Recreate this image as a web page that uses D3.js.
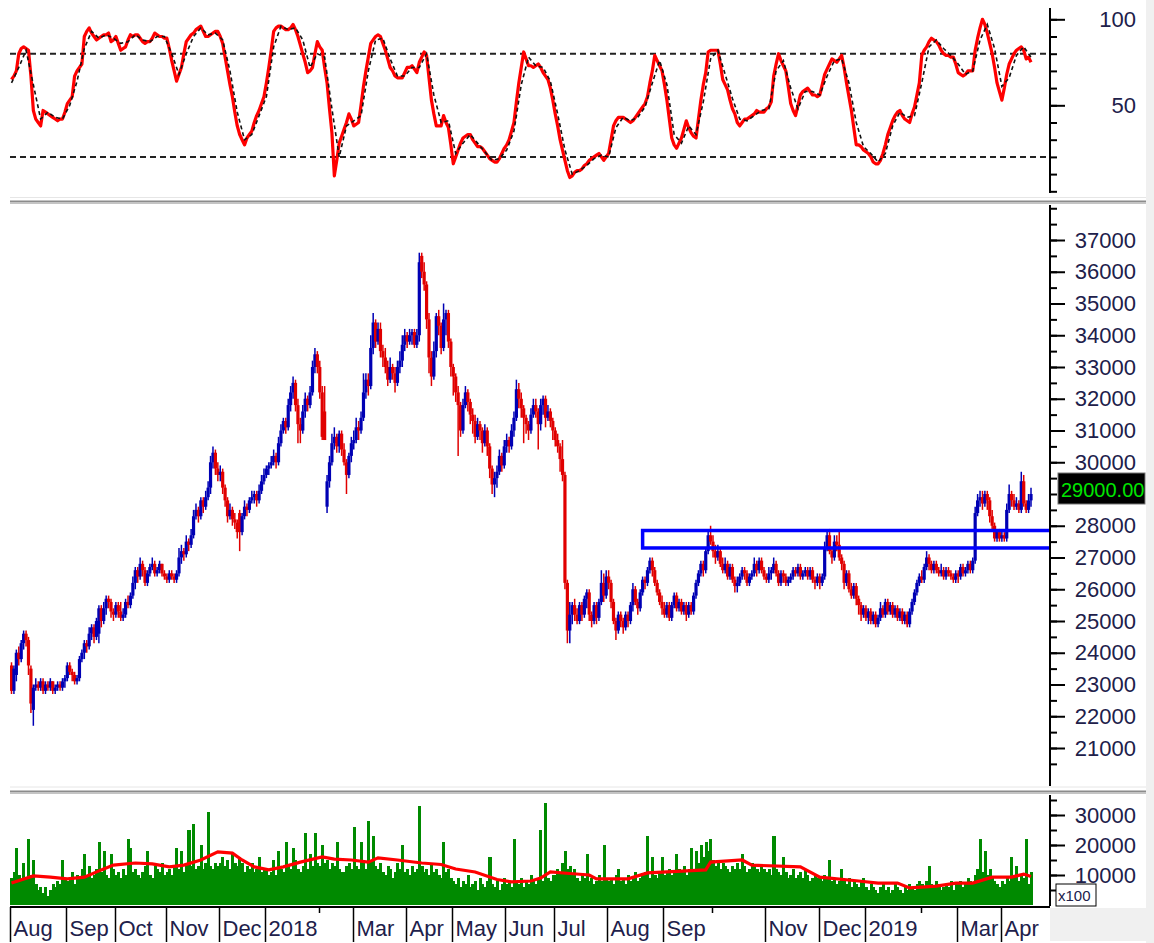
<!DOCTYPE html>
<html>
<head>
<meta charset="utf-8">
<script src="https://cdn.jsdelivr.net/npm/d3@7/dist/d3.min.js"></script>
<style>
	body { margin: 0; background: #fff; }
	svg { display: block; font-family: 'Liberation Sans', Arial, sans-serif; }
</style>
</head>
<body>
<div id="chart"></div>
<script>
// month ticks on the date row ('' = short tick, no label)
var monthLabels = ['Aug', 'Sep', 'Oct', 'Nov', 'Dec', '2018', '', 'Mar', 'Apr', 'May', 'Jun', 'Jul',
	'Aug', 'Sep', '', 'Nov', 'Dec', '2019', '', 'Mar', 'Apr'];
var monthStarts = [0, 23, 43, 64, 86, 105, 127, 141, 163, 182, 204, 224, 246, 269, 289, 311, 333, 352, 375, 390, 408];

var stochTicks = [100, 50];
var stochLevels = [80, 20];
// 29000 sits under the last-price box, so it gets no label
var priceTicks = [21000, 22000, 23000, 24000, 25000, 26000, 27000, 28000, 30000,
	31000, 32000, 33000, 34000, 35000, 36000, 37000];
var volumeTicks = [10000, 20000, 30000];

// daily bars [open, high, low, close], prices in units of 100
var priceUnit = 100;
var bars = [
	// Aug 2017
	[236,237,227,228],[228,236,227,235],[233,241,231,240],[240,242,236,238],[238,244,237,243],[243,247,241,246],[246,247,242,244],[244,245,233,236],[235,236,221,224],[222,230,217,229],[229,232,228,230],[230,231,228,229],[229,232,228,231],[231,232,227,228],[228,231,227,230],[230,231,228,229],[229,232,228,231],[231,231,227,228],[228,230,227,229],[229,231,228,230],[230,231,228,229],[229,232,228,231],[231,233,229,232],
	// Sep
	[232,237,231,236],[236,237,233,234],[234,235,231,233],[233,234,230,231],[231,233,230,232],[232,239,231,238],[238,241,237,240],[240,244,238,243],[243,244,240,242],[242,248,241,246],[246,249,244,248],[248,249,243,245],[245,251,244,250],[246,255,243,254],[254,255,248,250],[250,256,249,254],[254,258,252,257],[257,258,254,256],[256,257,251,253],[253,254,250,252],
	// Oct
	[252,256,251,255],[255,256,251,253],[253,256,250,251],[251,254,250,252],[252,257,251,256],[256,258,254,255],[255,259,254,258],[258,264,257,262],[262,267,260,266],[266,267,262,264],[264,270,263,268],[268,269,264,266],[266,267,261,262],[262,266,261,265],[265,268,264,267],[267,270,266,268],[268,269,264,265],[265,267,264,266],[266,269,265,268],[268,268,264,265],[265,266,263,264],
	// Nov
	[264,265,262,263],[263,266,262,265],[265,266,263,264],[264,265,262,263],[263,266,262,265],[265,273,264,270],[270,274,268,272],[272,273,269,271],[271,277,270,275],[275,276,272,274],[274,279,273,277],[277,285,276,283],[283,287,282,285],[285,286,281,283],[283,289,282,288],[288,289,284,286],[286,291,285,289],[289,294,288,292],[292,302,290,300],[300,305,298,303],[303,304,296,298],[298,300,294,296],
	// Dec
	[296,299,294,297],[297,298,290,292],[292,293,286,288],[288,289,281,283],[283,287,282,285],[285,286,280,282],[282,284,279,281],[281,282,276,278],[284,285,272,278],[278,284,277,283],[283,288,282,286],[286,287,283,285],[285,289,284,288],[288,291,287,289],[289,291,287,290],[290,291,286,288],[288,293,287,291],[291,296,290,294],[294,298,293,296],
	// Jan 2018
	[296,299,295,298],[298,300,296,299],[299,302,298,300],[300,304,299,302],[302,303,298,300],[300,308,299,306],[306,312,305,310],[310,314,309,313],[313,314,309,311],[311,320,310,318],[318,324,316,322],[322,327,320,325],[325,326,316,318],[318,320,306,312],[312,314,306,310],[310,318,309,316],[316,322,314,320],[320,321,316,318],[318,324,317,322],[322,332,321,330],[330,336,328,334],[334,335,328,330],
	// Feb
	[330,332,320,322],[322,324,307,308],[316,324,307,307],[286,296,284,294],[294,302,292,300],[300,309,299,306],[306,311,304,308],[308,309,303,305],[305,310,303,309],[309,310,302,304],[304,306,299,300],[300,301,290,296],[296,303,295,302],[302,308,300,306],
	// Mar
	[306,310,304,307],[307,314,306,311],[311,313,307,310],[310,316,309,314],[314,328,313,322],[322,328,320,326],[326,328,321,324],[324,340,323,336],[336,347,334,344],[344,345,336,338],[338,344,337,342],[342,344,333,335],[335,337,330,333],[333,336,328,330],[330,332,324,326],[326,333,325,330],[330,331,326,328],[328,330,322,325],[325,332,324,330],[330,335,328,332],[332,340,330,337],[337,342,335,340],
	// Apr
	[340,341,336,338],[338,342,337,340],[340,342,337,341],[341,342,336,337],[337,342,336,340],[340,366,338,363],[365,366,358,360],[360,363,354,356],[356,357,342,345],[345,347,328,333],[333,335,324,327],[327,338,326,335],[335,347,333,346],[346,348,340,343],[343,344,334,336],[336,350,335,345],[345,348,340,347],[347,348,336,338],[338,339,327,330],
	// May
	[330,331,321,327],[327,328,319,322],[322,324,302,318],[318,319,308,310],[310,320,309,318],[318,324,317,322],[322,323,316,319],[319,320,312,315],[315,317,309,313],[313,315,306,308],[308,314,307,312],[312,313,307,310],[310,311,303,306],[306,312,305,310],[310,311,302,305],[305,306,295,298],[298,299,290,293],[293,297,289,295],[295,299,292,297],[297,304,296,302],[302,303,297,299],[299,307,298,305],
	// Jun
	[305,309,303,307],[307,308,303,305],[305,312,304,310],[310,316,308,314],[314,326,313,323],[323,325,317,320],[320,322,314,317],[317,318,306,314],[314,315,309,312],[312,313,307,310],[310,317,309,315],[315,320,314,318],[318,320,314,316],[316,317,304,312],[312,320,310,318],[318,321,315,320],[320,321,311,314],[314,318,313,316],[316,317,311,313],[313,314,307,310],
	// Jul
	[310,311,305,307],[307,309,303,305],[305,306,297,301],[301,307,294,296],[296,297,260,262],[262,263,243,247],[247,256,243,252],[252,256,249,255],[255,257,250,252],[252,254,249,250],[250,256,249,255],[255,256,250,252],[252,258,251,257],[257,260,254,259],[259,260,250,252],[252,253,248,250],[250,256,249,255],[255,256,249,251],[251,257,250,256],[256,266,255,262],[262,265,256,258],[258,266,257,264],
	// Aug
	[264,266,260,262],[262,263,254,256],[256,257,249,250],[250,251,244,247],[247,253,246,252],[252,253,248,250],[250,251,246,248],[248,253,247,252],[252,253,248,250],[250,256,249,255],[255,262,253,260],[260,261,255,256],[256,257,252,254],[254,260,253,259],[259,264,258,263],[263,264,260,262],[262,267,261,266],[266,270,265,269],[269,270,264,266],[266,267,261,262],[262,263,258,259],[259,260,255,256],[256,258,252,254],
	// Sep
	[254,256,251,252],[252,256,251,255],[255,256,250,251],[251,256,250,255],[255,259,254,258],[258,259,253,254],[254,257,253,256],[256,257,252,253],[253,256,252,255],[255,256,250,252],[252,256,251,255],[255,256,252,253],[253,259,252,258],[258,263,257,262],[262,266,261,265],[265,269,264,268],[268,269,264,266],[266,273,265,272],[272,278,271,277],[277,280,274,275],
	// Oct
	[275,277,270,272],[272,274,268,270],[270,274,269,272],[272,273,267,268],[268,270,265,266],[266,270,265,268],[268,269,263,264],[264,268,263,267],[267,268,262,263],[263,264,259,261],[261,264,259,262],[262,265,261,264],[264,267,263,266],[266,267,263,265],[265,266,261,262],[262,265,261,264],[264,266,263,265],[265,270,264,268],[268,269,264,266],[266,270,265,269],[269,270,265,266],[266,267,263,264],
	// Nov
	[264,265,262,263],[263,267,262,265],[265,267,263,266],[266,270,265,268],[268,269,264,265],[265,266,261,262],[262,266,261,265],[265,266,262,264],[264,265,261,262],[262,264,261,263],[263,265,262,264],[264,267,263,266],[266,267,264,265],[265,268,264,267],[267,268,263,264],[264,266,263,265],[265,267,264,266],[266,267,263,264],[264,267,263,266],[266,267,262,263],[263,264,260,262],[262,265,261,264],
	// Dec
	[264,265,260,262],[262,265,261,264],[264,275,263,273],[273,279,272,277],[277,279,271,272],[272,273,268,270],[270,277,269,275],[275,277,272,274],[274,278,269,270],[270,271,266,268],[268,269,260,262],[262,266,261,265],[265,266,259,260],[260,262,257,258],[258,262,257,261],[261,262,255,257],[257,258,252,255],[255,256,250,252],[252,255,251,254],
	// Jan 2019
	[254,255,250,251],[251,254,249,253],[253,254,249,250],[250,253,249,252],[252,253,248,249],[249,252,248,251],[251,256,250,254],[254,255,251,252],[252,257,251,256],[256,257,252,253],[253,256,252,255],[255,256,251,252],[252,255,251,254],[254,255,250,251],[251,254,250,253],[253,254,249,250],[250,253,249,252],[252,253,248,249],[249,254,248,253],[253,257,252,256],[256,260,255,259],[259,263,258,262],[262,265,261,264],
	// Feb
	[264,266,262,263],[263,268,262,267],[267,272,266,270],[270,271,266,268],[268,269,265,266],[266,269,265,268],[268,269,265,266],[266,267,264,265],[265,268,264,266],[266,267,263,264],[264,267,263,266],[266,267,264,265],[265,266,263,264],[264,265,262,263],[263,266,262,265],
	// Mar
	[265,266,262,264],[264,268,263,267],[267,268,264,265],[265,267,264,266],[266,269,265,268],[268,269,265,266],[266,270,265,269],[269,286,268,284],[284,290,283,288],[288,291,286,289],[289,291,285,287],[287,291,286,290],[290,291,285,288],[288,289,281,283],[283,285,278,280],[280,281,275,276],[276,279,275,278],[278,279,275,276],
	// Apr
	[276,279,275,277],[277,278,275,276],[276,287,275,285],[285,293,284,290],[290,291,286,288],[288,290,285,286],[286,289,285,287],[287,288,284,285],[285,297,284,294],[294,296,286,287],[287,288,284,285],[285,290,284,288],[288,292,286,290]
];

// stochastic %K, one value per bar
var stochK = [
	65,67,70,80,83,84,83,82,67,47,42,40,38,47,46,45,44,43,42,41,42,42,46,
	51,53,55,67,70,72,74,90,93,95,92,90,88,89,90,91,91,92,87,88,
	90,86,82,83,84,88,91,90,91,91,89,87,86,87,87,89,92,91,90,90,89,
	89,83,76,70,64,68,72,80,87,89,91,92,94,95,96,93,90,90,91,92,93,93,
	90,86,78,70,62,55,46,38,33,30,27,31,33,35,40,44,47,51,55,
	63,72,82,93,95,96,96,95,94,94,95,97,94,90,85,80,75,69,70,72,80,87,
	84,82,72,63,48,34,9,18,28,32,36,40,45,42,
	38,39,40,50,61,70,78,86,88,90,91,90,86,82,77,72,70,67,66,66,66,69,
	72,72,73,71,69,75,78,81,79,66,53,45,38,38,38,44,40,37,27,
	16,20,24,28,31,32,33,33,30,28,26,26,25,23,21,19,18,17,17,19,22,25,
	27,30,35,40,52,63,72,81,77,73,73,72,73,74,72,69,67,65,60,53,
	45,38,30,24,18,12,8,9,11,12,12,13,15,16,18,19,20,21,22,20,18,20,
	22,30,38,41,43,43,43,42,41,40,41,43,45,47,49,51,55,63,70,79,76,73,70,
	62,53,42,31,27,25,28,31,36,41,37,34,32,31,42,53,62,69,81,82,
	82,82,82,74,65,62,59,53,48,45,40,38,40,42,42,43,44,45,47,46,46,46,
	48,49,52,67,74,80,76,73,70,61,51,47,44,50,56,58,59,60,58,56,56,55,
	56,62,68,71,74,77,76,75,77,79,72,63,55,47,37,27,27,26,24,
	23,22,20,17,16,16,18,22,27,33,37,41,44,46,47,44,42,41,40,45,49,56,63,
	79,82,84,87,89,88,87,85,82,80,79,79,78,78,74,
	69,68,67,68,70,70,70,82,89,95,100,97,92,86,80,72,63,58,
	53,60,68,74,77,80,82,83,84,82,77,78,75
];

// stochastic %D, read every third bar
var stochDStep = 3;
var stochD = [
	63,72,82,62,42,46,43,42,50,64, 83,93,89,91,89,86,87,91,88,87,
	90,90,80,68,80,90,95,91,92,88, 70,46,30,33,44,55,84,96,94,95,
	88,72,80,78,48,20,38,41,44,70, 88,89,77,67,67,72,72,80,56,40,
	41,22,28,33,28,23,18,19,24,35, 62,78,73,72,64,45,24,10,12,15,
	19,21,20,37,43,41,43,49,63,76, 62,33,28,38,33,52,77,82,68,54,
	42,41,44,47,48,70,76,60,48,58, 58,56,67,76,77,63,40,26,22,17,
	22,38,46,43,44,63,84,88,83,79, 74,68,70,88,97,83,61,66,79,84,
	78
];

// volume per bar, in thousands of the axis unit (x100 shares)
var volumeUnit = 1000;
var volumes = [
	9,11,19,10,8,14,9,22,10,15,7,5,6,4,6,3,5,7,6,8,7,15,9,
	8,9,11,7,10,9,12,17,10,13,9,10,12,21,11,18,10,9,17,12,
	10,11,9,12,10,22,19,11,12,10,9,11,13,18,10,9,13,12,11,14,10,
	11,12,10,13,19,12,18,11,14,25,13,27,12,13,20,12,14,31,13,12,14,13,
	14,16,13,15,12,17,14,13,16,14,11,13,12,14,11,12,16,11,12,
	12,10,11,15,10,18,12,11,21,13,12,19,15,12,11,13,24,12,17,13,24,14,
	13,20,14,15,12,14,13,21,12,11,11,13,14,12,
	26,13,12,21,14,12,28,15,23,13,12,14,11,10,13,12,9,11,14,12,20,11,
	12,10,13,11,12,33,13,11,12,10,14,11,12,10,9,21,11,12,9,
	8,7,9,6,8,7,10,6,7,8,5,9,7,6,8,16,7,6,8,5,7,9,
	7,8,6,22,8,7,9,6,8,7,10,8,7,9,25,8,34,9,8,10,
	10,12,11,14,18,12,13,10,12,9,8,10,9,17,8,9,7,8,10,8,20,9,
	8,9,7,10,12,8,9,7,10,8,9,11,8,9,10,11,23,9,16,10,9,11,16,
	10,11,12,10,11,17,12,11,13,10,12,19,11,18,14,20,16,21,18,22,
	15,13,15,12,14,13,12,11,13,12,14,12,17,13,11,12,14,13,12,11,13,12,
	11,12,10,23,12,11,10,16,11,9,10,12,9,10,11,9,12,10,8,9,10,9,
	9,8,10,9,15,8,9,7,8,12,8,7,9,6,8,7,6,8,9,
	6,5,7,6,5,4,6,7,5,6,4,5,7,6,5,4,6,5,7,6,5,7,8,
	7,6,8,13,7,6,8,7,5,6,7,6,8,5,7,
	7,8,6,7,9,8,7,10,12,22,11,18,10,12,9,8,7,6,
	8,7,9,8,16,9,13,8,10,9,22,7,11
];

// volume moving average, [bar index, value]
var volumeAvg = [
	[0,7.3],[9,9.7],[16,9.3],[23,8.7],[30,9.3],[37,11.7],[42,13.3],[51,14],[58,13.7],[65,12.7],
	[71,13.3],[78,15],[85,17.7],[91,17.3],[95,15],[100,12.7],[106,11.7],[112,12.7],[119,14.3],[128,16],
	[133,15.3],[140,15],[147,14.3],[151,15.7],[159,15],[169,14],[177,13.5],[183,12],[191,11],[200,8.5],
	[206,7.7],[214,8],[218,9],[222,11],[230,10.5],[238,10],[241,8.7],[254,8.7],[262,10.7],[286,11.7],
	[288,14.3],[301,15],[305,13.3],[325,12.7],[333,9.3],[349,8],[357,7.3],[365,7.3],[370,5.7],[381,6.3],
	[389,7.3],[396,7.3],[404,9.3],[412,9.3],[417,10.3],[420,9.5]
];

// resistance box drawn on the price panel
var zoneTop = 27850;
var zoneBottom = 27300;
var zoneStart = 260;

function StockChart(options) {
	this.options = options || {};
	this.container = this.options.container || '#chart';
	this.axisX = 1050;
	this.labelRight = 1136;
	this.plotLeft = 10;
	this.textColor = '#20204a';
	this.init();
}

StockChart.prototype = {
	constructor: StockChart,

	init: function () {
		this.svg = d3.select(this.container).append('svg')
			.attr('width', 1154).attr('height', 943);
		this.x = d3.scaleLinear().domain([0, bars.length - 1]).range([11.5, 1031]);
		this.step = this.x(1) - this.x(0);

		this.drawFrame();
		this.drawStoch();
		this.drawPrice();
		this.drawVolume();
		this.drawDates();
	},

	drawFrame: function () {
		var svg = this.svg;
		svg.append('rect').attr('width', 1154).attr('height', 943).attr('fill', '#fff');
		svg.append('rect').attr('x', 1146).attr('y', 0).attr('width', 8).attr('height', 943).attr('fill', '#f0f0f0');
		svg.append('line').attr('x1', 10).attr('x2', 1146).attr('y1', 197.5).attr('y2', 197.5).attr('stroke', '#e6e6e6');
		svg.append('line').attr('x1', 10).attr('x2', 1146).attr('y1', 787).attr('y2', 787).attr('stroke', '#e6e6e6');

		[200, 790].forEach(function (y) {
			svg.append('rect').attr('x', 10).attr('y', y).attr('width', 1136).attr('height', 4).attr('fill', '#c4c4c4');
			svg.append('line').attr('x1', 10).attr('x2', 1146).attr('y1', y + 1.5).attr('y2', y + 1.5).attr('stroke', '#8c8c8c');
		});

		this.clip('clip-stoch', 0, 197);
		this.clip('clip-price', 204, 786);
		this.clip('clip-vol', 794, 906);
	},

	clip: function (id, top, bottom) {
		this.svg.append('clipPath').attr('id', id).append('rect')
			.attr('x', this.plotLeft).attr('y', top)
			.attr('width', this.axisX - this.plotLeft - 1).attr('height', bottom - top);
	},

	_axis: function (scale, top, bottom, major, minor, format) {
		var self = this;
		var g = this.svg.append('g').attr('transform', 'translate(' + this.axisX + ',0)');
		g.append('line').attr('y1', top).attr('y2', bottom).attr('stroke', '#000').attr('stroke-width', 2);

		var mn = g.append('g').call(d3.axisRight(scale).tickValues(minor).tickSize(7).tickFormat(''));
		mn.select('.domain').remove();
		mn.selectAll('line').attr('stroke-width', 2);

		var mj = g.append('g').call(d3.axisRight(scale).tickValues(major).tickSize(15).tickFormat(format));
		mj.select('.domain').remove();
		mj.selectAll('line').attr('stroke-width', 2);
		mj.selectAll('text')
			.attr('x', this.labelRight - this.axisX)
			.attr('text-anchor', 'end')
			.attr('font-size', 22)
			.attr('font-family', "'Liberation Sans', Arial, sans-serif")
			.attr('fill', self.textColor);
		return g;
	},

	drawStoch: function () {
		var self = this;
		var y = d3.scaleLinear().domain([0, 100]).range([191.3, 19.3]);
		var body = this.svg.append('g').attr('clip-path', 'url(#clip-stoch)');

		body.selectAll('.level').data(stochLevels).enter().append('line')
			.attr('x1', this.plotLeft).attr('x2', this.axisX)
			.attr('y1', function (d) { return y(d); }).attr('y2', function (d) { return y(d); })
			.attr('stroke', '#222').attr('stroke-width', 2).attr('stroke-dasharray', '6,4');

		var line = d3.line()
			.x(function (d, i) { return self.x(i); })
			.y(function (d) { return y(d); });
		body.append('path').datum(stochK).attr('d', line)
			.attr('fill', 'none').attr('stroke', '#ff0000').attr('stroke-width', 3.2).attr('stroke-linejoin', 'round');

		var lineD = d3.line()
			.x(function (d, i) { return self.x(i * stochDStep); })
			.y(function (d) { return y(d); });
		body.append('path').datum(stochD).attr('d', lineD)
			.attr('fill', 'none').attr('stroke', '#111').attr('stroke-width', 1.6).attr('stroke-dasharray', '4,3');

		var minor = d3.range(0, 101, 10);
		this._axis(y, 8, 193, stochTicks, minor, d3.format('d'));
	},

	drawPrice: function () {
		var self = this;
		var y = d3.scaleLinear().domain([21000, 37000]).range([748, 240]);
		var body = this.svg.append('g').attr('clip-path', 'url(#clip-price)');
		var up = '#0000b4', down = '#e00000';

		var g = body.selectAll('.bar').data(bars).enter().append('g').attr('class', 'bar');
		g.append('line')
			.attr('x1', function (d, i) { return self.x(i); })
			.attr('x2', function (d, i) { return self.x(i); })
			.attr('y1', function (d) { return y(d[1] * priceUnit); })
			.attr('y2', function (d) { return y(d[2] * priceUnit); })
			.attr('stroke', function (d) { return d[3] >= d[0] ? up : down; })
			.attr('stroke-width', 1.5);
		g.append('rect')
			.attr('x', function (d, i) { return self.x(i) - 1.6; })
			.attr('width', 3.2)
			.attr('y', function (d) { return y(Math.max(d[0], d[3]) * priceUnit); })
			.attr('height', function (d) { return Math.max(2, Math.abs(y(d[0] * priceUnit) - y(d[3] * priceUnit))); })
			.attr('fill', function (d) { return d[3] >= d[0] ? up : down; });

		body.append('rect')
			.attr('x', this.x(zoneStart)).attr('y', y(zoneTop))
			.attr('width', this.axisX + 20 - this.x(zoneStart))
			.attr('height', y(zoneBottom) - y(zoneTop))
			.attr('fill', 'none').attr('stroke', '#0000ff').attr('stroke-width', 3.5);

		var minor = d3.range(20500, 38001, 500);
		this._axis(y, 205, 786, priceTicks, minor, d3.format('d'));

		var last = bars[bars.length - 1][3] * priceUnit;
		this.svg.append('rect').attr('x', 1058).attr('y', y(last) - 21).attr('width', 87).attr('height', 31)
			.attr('fill', '#000').attr('stroke', '#777');
		this.svg.append('text').attr('x', 1061).attr('y', y(last) + 3)
			.attr('font-size', 20).attr('fill', '#00e600').text(last.toFixed(2));
	},

	drawVolume: function () {
		var self = this;
		var y = d3.scaleLinear().domain([0, 30000]).range([905, 815]);
		var body = this.svg.append('g').attr('clip-path', 'url(#clip-vol)');

		body.selectAll('.vol').data(volumes).enter().append('rect')
			.attr('x', function (d, i) { return self.x(i) - self.step / 2; })
			.attr('width', this.step + 0.6)
			.attr('y', function (d) { return y(d * volumeUnit); })
			.attr('height', function (d) { return 905 - y(d * volumeUnit); })
			.attr('fill', '#008a00')
			.attr('shape-rendering', 'crispEdges');

		var avg = d3.line()
			.x(function (d) { return self.x(d[0]); })
			.y(function (d) { return y(d[1] * volumeUnit); });
		body.append('path').datum(volumeAvg).attr('d', avg)
			.attr('fill', 'none').attr('stroke', '#ff0000').attr('stroke-width', 3.2);

		var minor = d3.range(5000, 35001, 5000);
		this._axis(y, 795, 906, volumeTicks, minor, d3.format('d'));

		this.svg.append('rect').attr('x', 1056).attr('y', 884).attr('width', 40).attr('height', 22)
			.attr('fill', '#fff').attr('stroke', '#000');
		this.svg.append('text').attr('x', 1058).attr('y', 901).attr('font-size', 15)
			.attr('fill', this.textColor).text('x100');
	},

	drawDates: function () {
		var self = this;
		var svg = this.svg;
		svg.append('rect').attr('x', 1050).attr('y', 908).attr('width', 96).attr('height', 33).attr('fill', '#f0f0f0');
		svg.append('line').attr('x1', 10).attr('x2', 1050).attr('y1', 907).attr('y2', 907)
			.attr('stroke', '#000').attr('stroke-width', 2);

		var g = svg.append('g');
		monthStarts.forEach(function (idx, k) {
			var xp = Math.round(self.x(idx) - self.step / 2) + 0.5;
			var label = monthLabels[k];
			g.append('line').attr('x1', xp).attr('x2', xp)
				.attr('y1', 907).attr('y2', label ? 942 : 913)
				.attr('stroke', '#000').attr('stroke-width', 1.5);
			if (label) {
				g.append('text').attr('x', xp + 3).attr('y', 936)
					.attr('font-size', 22).attr('fill', self.textColor).text(label);
			}
		});
	}
};

new StockChart({ container: '#chart' });
</script>
</body>
</html>
